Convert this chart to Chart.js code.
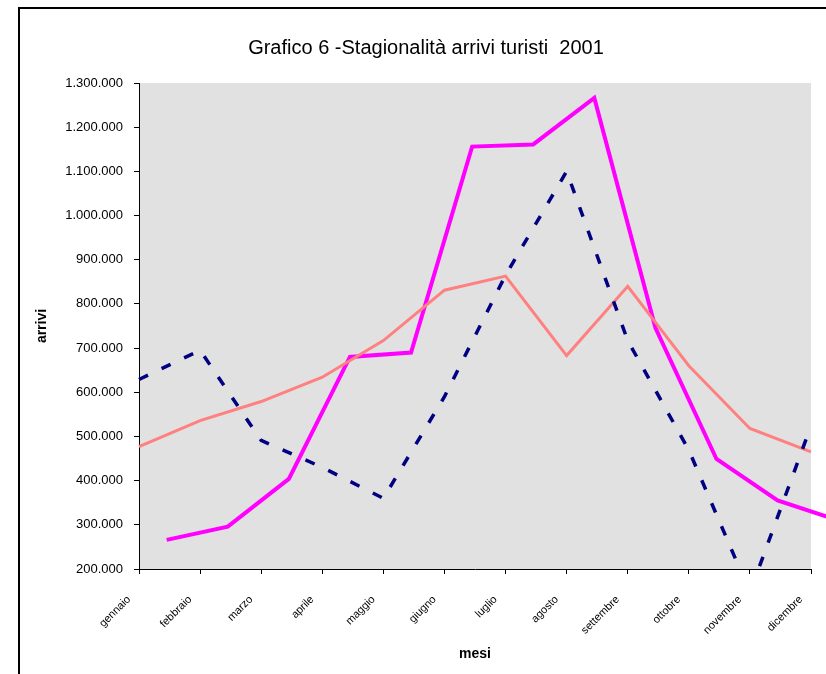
<!DOCTYPE html>
<html>
<head>
<meta charset="utf-8">
<script src="https://cdn.jsdelivr.net/npm/chart.js@4/dist/chart.umd.min.js"></script>
<style>
  html, body { margin: 0; padding: 0; background: #fff; }
  canvas { display: block; }
</style>
</head>
<body>
<canvas id="c" width="826" height="674"></canvas>
<script>
const chartTitle = 'Grafico 6 -Stagionalità arrivi turisti  2001';
const months = ['gennaio','febbraio','marzo','aprile','maggio','giugno','luglio','agosto','settembre','ottobre','novembre','dicembre'];
const serieBlu = [629000, 695000, 491000, 430000, 360000, 590000, 865000, 1100000, 717000, 469000, 147000, 524000];
const serieMagenta = [266000, 296000, 404000, 680000, 690000, 1156000, 1161000, 1266000, 746000, 449000, 355000, 310000];
const serieSalmone = [477000, 536000, 579000, 634000, 717000, 831000, 863000, 683000, 840000, 660000, 518000, 465000];
const yTicks = [200000, 300000, 400000, 500000, 600000, 700000, 800000, 900000, 1000000, 1100000, 1200000, 1300000];

const FONT = '"Liberation Sans", Arial, sans-serif';

function fmt(v) {
  return String(v).replace(/\B(?=(\d{3})+(?!\d))/g, '.');
}

const decor = {
  id: 'decor',
  beforeDraw(chart) {
    const { ctx, chartArea: a } = chart;
    ctx.save();
    ctx.fillStyle = '#ffffff';
    ctx.fillRect(0, 0, chart.width, chart.height);
    ctx.fillStyle = '#E1E1E1';
    ctx.fillRect(a.left, a.top, a.right - a.left, a.bottom - a.top);
    ctx.strokeStyle = '#000';
    ctx.lineWidth = 2;
    ctx.strokeRect(19, 8, 2000, 2000);
    ctx.fillStyle = '#000';
    ctx.font = '20px ' + FONT;
    ctx.textAlign = 'center';
    ctx.textBaseline = 'middle';
    ctx.fillText(chartTitle, 426, 48);
    ctx.restore();
  }
};

new Chart(document.getElementById('c'), {
  type: 'line',
  data: {
    labels: months,
    datasets: [
      {
        label: 'serie blu',
        data: serieBlu,
        xAxisID: 'x',
        borderColor: '#000080',
        borderWidth: 3.5,
        borderDash: [10, 15],
        pointRadius: 0,
        tension: 0,
        fill: false
      },
      {
        label: 'serie salmone',
        data: serieSalmone,
        xAxisID: 'x',
        borderColor: '#FF8080',
        borderWidth: 3,
        pointRadius: 0,
        tension: 0,
        fill: false
      },
      {
        label: 'serie magenta',
        data: serieMagenta.map((v, i) => ({ x: i, y: v })),
        xAxisID: 'x2',
        borderColor: '#FF00FF',
        borderWidth: 4,
        pointRadius: 0,
        tension: 0,
        fill: false,
        clip: { left: 0, top: 0, right: false, bottom: 0 }
      }
    ]
  },
  options: {
    responsive: false,
    animation: false,
    layout: { padding: { left: 0, right: 15, top: 83, bottom: 0 } },
    plugins: {
      legend: { display: false },
      title: { display: false },
      tooltip: { enabled: false }
    },
    scales: {
      x: {
        type: 'category',
        offset: false,
        grid: { drawOnChartArea: false, drawTicks: true, color: '#000', tickLength: 5 },
        border: { color: '#000', width: 1 },
        ticks: {
          autoSkip: false,
          maxRotation: 45,
          minRotation: 45,
          labelOffset: -10,
          padding: 19,
          color: '#000',
          font: { family: FONT, size: 11 }
        },
        title: {
          display: true,
          text: 'mesi',
          color: '#000',
          font: { family: FONT, size: 14, weight: 'bold' },
          padding: { top: 0, bottom: 11.6 }
        },
        afterFit(s) { s.height = 105; s.paddingLeft = 0; s.paddingRight = 0; }
      },
      x2: {
        type: 'linear',
        display: false,
        min: -0.453,
        max: 10.547
      },
      y: {
        min: yTicks[0],
        max: yTicks[yTicks.length - 1],
        afterBuildTicks(s) { s.ticks = yTicks.map(v => ({ value: v })); },
        grid: { drawOnChartArea: false, drawTicks: true, color: '#000', tickLength: 5 },
        border: { color: '#000', width: 1 },
        ticks: {
          padding: 11,
          color: '#000',
          font: { family: FONT, size: 13 },
          callback: v => fmt(v)
        },
        title: {
          display: true,
          text: 'arrivi',
          color: '#000',
          font: { family: FONT, size: 14, weight: 'bold' },
          padding: { top: 33.6, bottom: 0 }
        },
        afterFit(s) { s.width = 139; }
      }
    }
  },
  plugins: [decor]
});
</script>
</body>
</html>
